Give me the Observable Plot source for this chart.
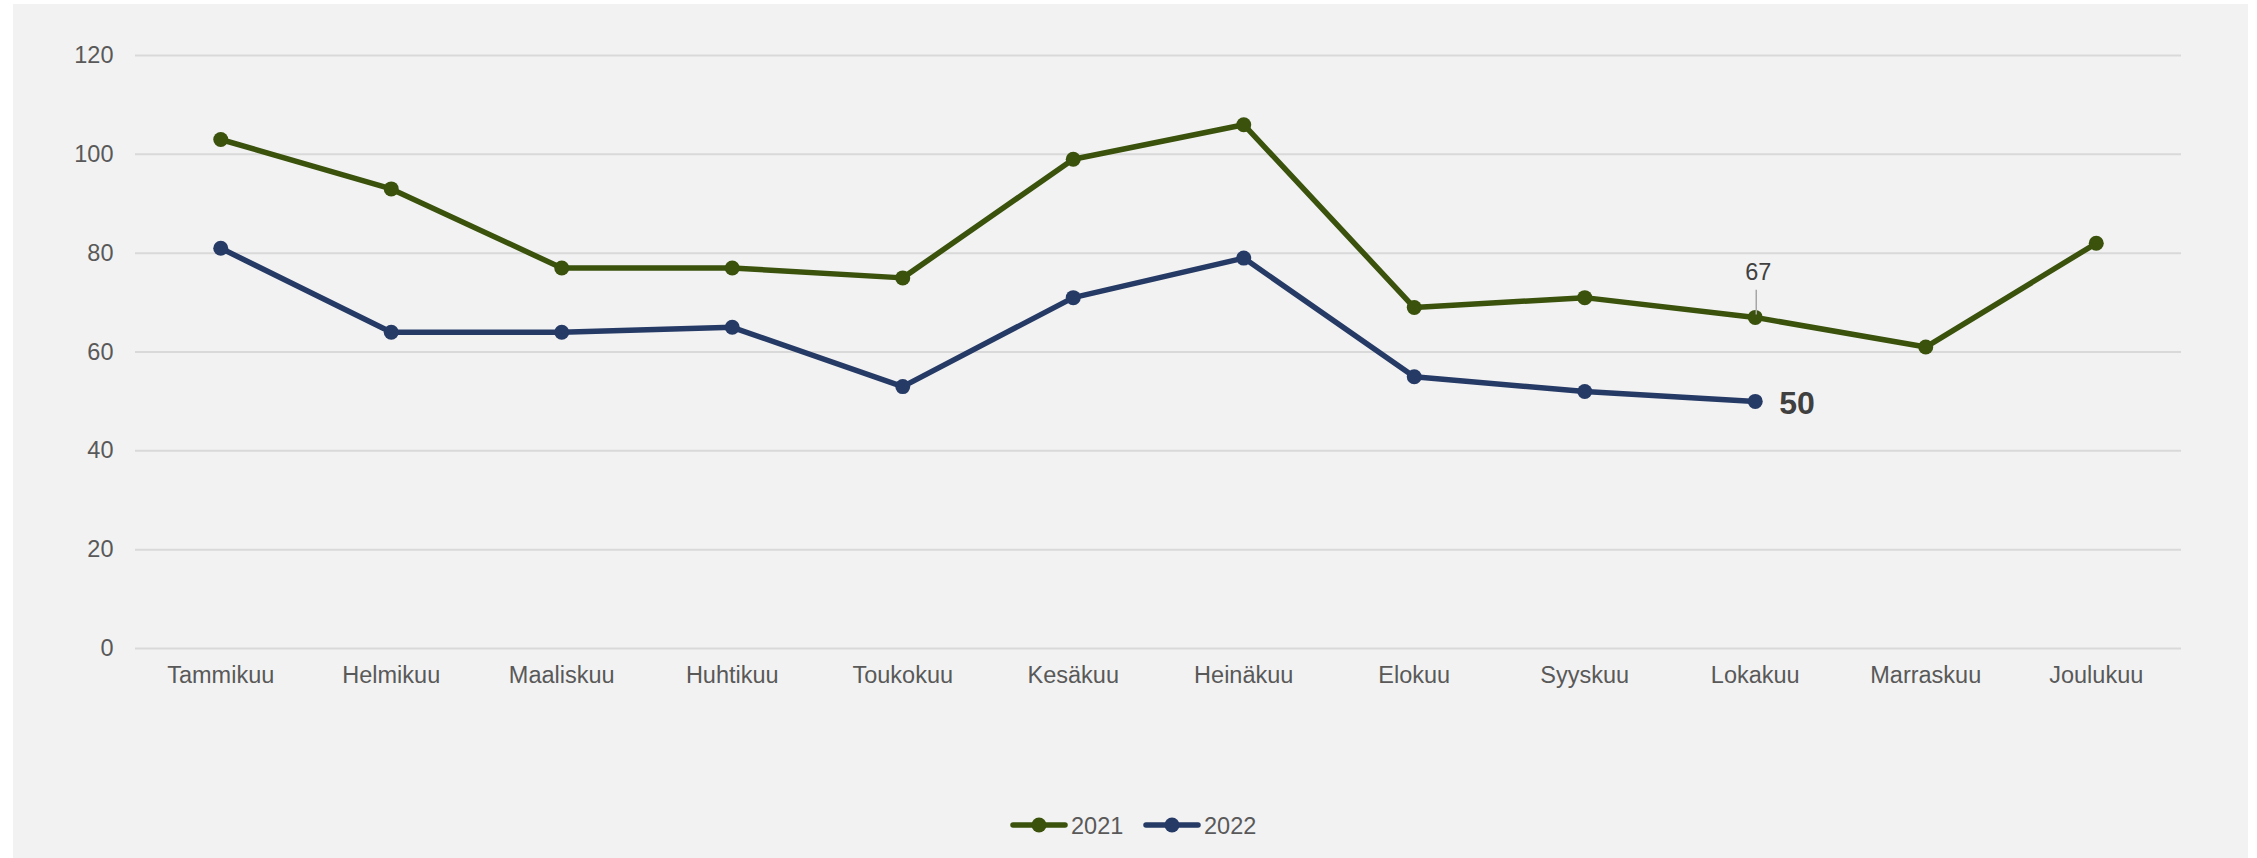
<!DOCTYPE html>
<html>
<head>
<meta charset="utf-8">
<script src="https://cdn.jsdelivr.net/npm/d3@7"></script>
<script src="https://cdn.jsdelivr.net/npm/@observablehq/plot@0.6"></script>
<style>
  html, body { margin: 0; padding: 0; background: #ffffff; }
  body { width: 2257px; height: 858px; position: relative; overflow: hidden; font-family: "Liberation Sans", Arial, sans-serif; }
  #panel { position: absolute; left: 13px; top: 4px; width: 2235px; height: 854px; background: #f2f2f2; }
  #chart { position: absolute; left: 0; top: 0; }
  #legend { position: absolute; left: 0; top: 808px; width: 2257px; height: 34px; }
</style>
</head>
<body>
<div id="panel"></div>
<div id="chart"></div>
<div id="legend"></div>
<script>
const months = ["Tammikuu","Helmikuu","Maaliskuu","Huhtikuu","Toukokuu","Kesäkuu","Heinäkuu","Elokuu","Syyskuu","Lokakuu","Marraskuu","Joulukuu"];
const values2021 = [103, 93, 77, 77, 75, 99, 106, 69, 71, 67, 61, 82];
const values2022 = [81, 64, 64, 65, 53, 71, 79, 55, 52, 50];
const seriesNames = ["2021", "2022"];
const seriesColors = ["#3a520c", "#263a66"];
const yTicks = [0, 20, 40, 60, 80, 100, 120];
const annotated2021Month = "Lokakuu";
const lastLabel2022Month = "Lokakuu";

const data = [
  ...values2021.map((v, i) => ({month: months[i], value: v, series: seriesNames[0]})),
  ...values2022.map((v, i) => ({month: months[i], value: v, series: seriesNames[1]}))
];
const ann67 = data.filter(d => d.series === "2021" && d.month === annotated2021Month);
const ann50 = data.filter(d => d.series === "2022" && d.month === lastLabel2022Month);

const font = '"Liberation Sans", Arial, sans-serif';

const chart = Plot.plot({
  width: 2257,
  height: 700,
  marginTop: 55,
  marginBottom: 52,
  marginLeft: 135,
  marginRight: 76,
  style: {background: "transparent", fontFamily: font, fontSize: "23.5px", color: "#595959", overflow: "visible"},
  x: {type: "point", domain: months, padding: 0.5, round: false, label: null},
  y: {domain: [0, 120], label: null},
  color: {domain: seriesNames, range: seriesColors},
  marks: [
    Plot.ruleY(yTicks, {stroke: "#d9d9d9", strokeWidth: 2}),
    Plot.axisY(yTicks, {tickSize: 0, tickPadding: 22, fontSize: 23.5, fill: "#595959", label: null}),
    Plot.axisX({tickSize: 0, tickPadding: 18, fontSize: 23.5, fill: "#595959", label: null}),
    Plot.line(data, {x: "month", y: "value", z: "series", stroke: "series", strokeWidth: 5.5, strokeLinejoin: "round", strokeLinecap: "round"}),
    Plot.dot(data, {x: "month", y: "value", fill: "series", r: 7.5}),
    Plot.link(ann67, {x1: "month", x2: "month", y1: d => d.value + 5.6, y2: d => d.value + 0.6, stroke: "#a6a6a6", strokeWidth: 1.5, dx: 1}),
    Plot.text(ann67, {x: "month", y: "value", text: d => String(d.value), dy: -45, dx: 3, fontSize: 23.5, fill: "#404040"}),
    Plot.text(ann50, {x: "month", y: "value", text: d => String(d.value), dx: 24, dy: 2, textAnchor: "start", fontSize: 32, fontWeight: "bold", fill: "#404040"})
  ]
});
document.getElementById("chart").appendChild(chart);

// Legend
const legend = d3.select("#legend").append("svg").attr("width", 2257).attr("height", 34);
const items = [{name: seriesNames[0], color: seriesColors[0], x: 1011}, {name: seriesNames[1], color: seriesColors[1], x: 1144}];
const g = legend.selectAll("g").data(items).join("g").attr("transform", d => `translate(${d.x},17)`);
g.append("line").attr("x1", 2).attr("x2", 54).attr("y1", 0).attr("y2", 0).attr("stroke", d => d.color).attr("stroke-width", 5.5).attr("stroke-linecap", "round");
g.append("circle").attr("cx", 28).attr("cy", 0).attr("r", 7.5).attr("fill", d => d.color);
g.append("text").attr("x", 60).attr("y", 8.5).text(d => d.name).attr("fill", "#595959").attr("font-family", font).attr("font-size", "23.5px");
</script>
</body>
</html>
